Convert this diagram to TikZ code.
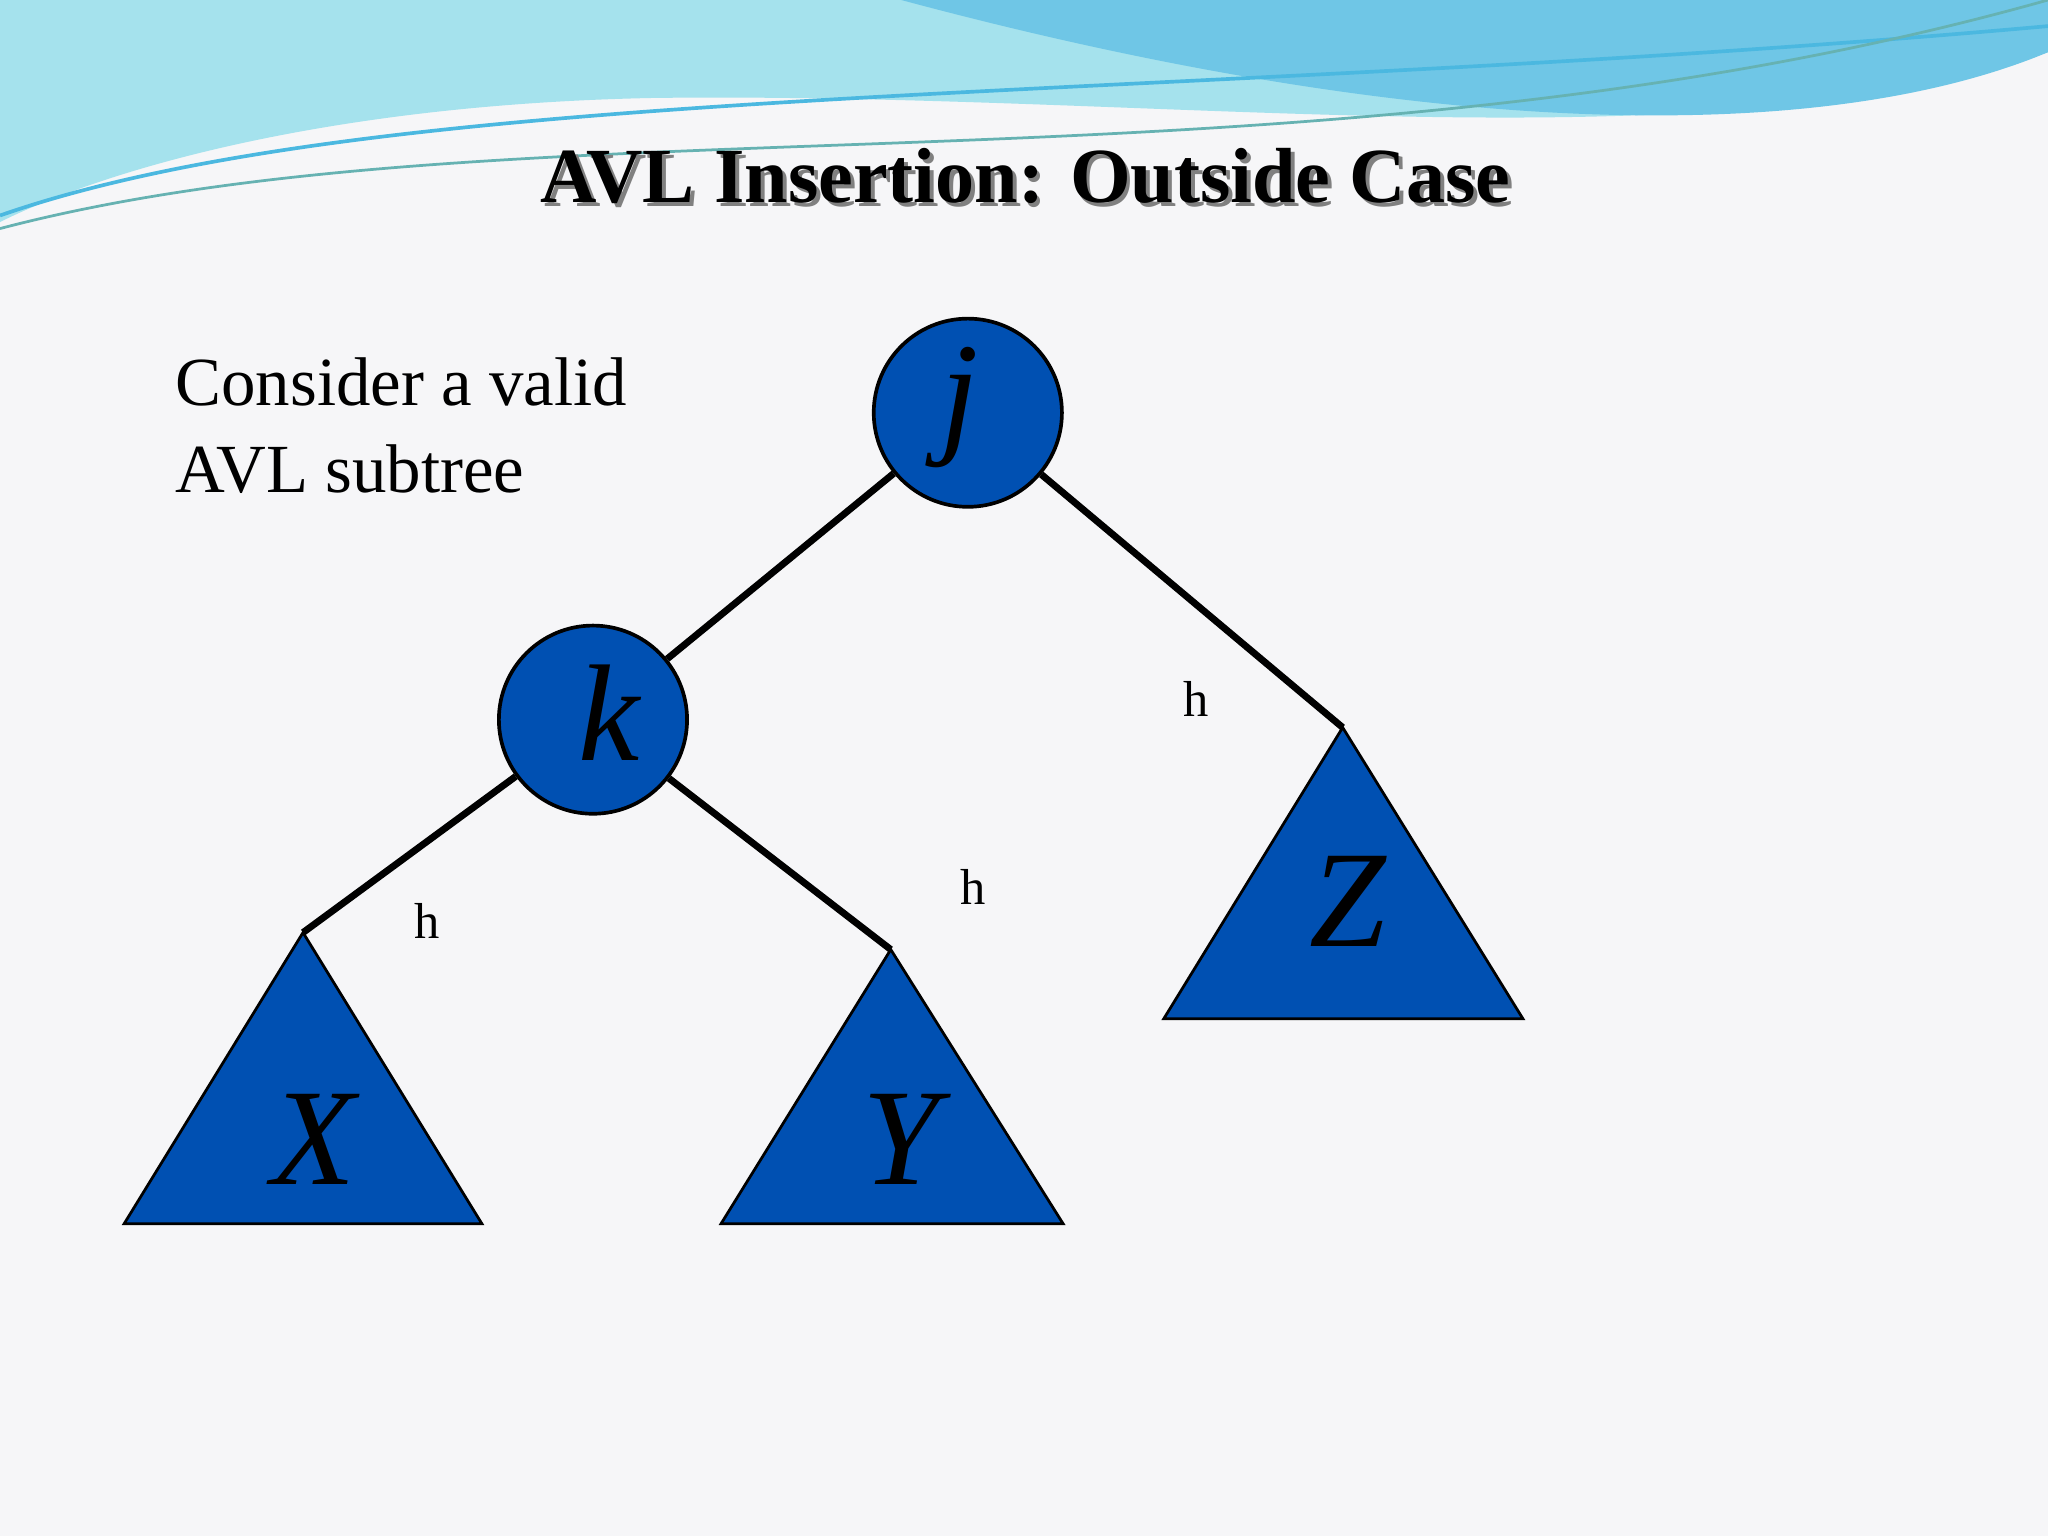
\documentclass[tikz,border=0pt]{standalone}
\usepackage{fontspec}
\setmainfont{Liberation Serif}
\begin{document}
\begin{tikzpicture}[x=0.01cm,y=-0.01cm,
  nd/.style={circle,draw=black,line width=0.8pt,fill=blue!55!cyan!70!black,minimum size=1.44cm,inner sep=0pt},
  tri/.style={draw=black,line width=0.6pt,fill=blue!55!cyan!70!black},
  edge/.style={line width=1.5pt},
  big/.style={font=\fontsize{30}{30}\selectfont\itshape},
  hl/.style={font=\fontsize{11}{11}\selectfont}]
\definecolor{bg}{HTML}{F6F6F8}
\definecolor{w1}{HTML}{7ED6E6}
\definecolor{w2}{HTML}{4BB8E0}
\fill[bg] (0,0) rectangle (1568,1176);
\useasboundingbox (0,0) rectangle (1568,1176);
% waves
\fill[w1!70!white] (0,0) -- (1568,0) -- (1568,40) .. controls (1300,130) and (900,70) .. (500,75) .. controls (250,80) and (80,130) .. (0,170) -- cycle;
\fill[w2!80!white] (690,0) -- (1568,0) -- (1568,40) .. controls (1400,110) and (1100,110) .. (690,0) -- cycle;
\draw[w2,line width=0.8pt] (0,165) .. controls (300,60) and (900,80) .. (1568,20);
\draw[teal!60,line width=0.6pt] (0,175) .. controls (400,70) and (1000,160) .. (1568,0);
% title
\node[font=\fontsize{17}{17}\selectfont\bfseries,text=gray] at (788,138) {AVL Insertion: Outside Case};
\node[font=\fontsize{17}{17}\selectfont\bfseries] (title) at (785,135) {AVL Insertion: Outside Case};
\node[anchor=west,align=left,font=\fontsize{15}{19}\selectfont] (txt) at (122,326) {Consider a valid\\AVL subtree};
% triangles
\coordinate (xa) at (232,714); \coordinate (ya) at (682,727); \coordinate (za) at (1028,557);
\filldraw[tri] (xa) -- (95,937) -- (369,937) -- cycle;
\filldraw[tri] (ya) -- (552,937) -- (814,937) -- cycle;
\filldraw[tri] (za) -- (891,780) -- (1166,780) -- cycle;
\node[big] (X) at (240,872) {X};
\node[big] (Y) at (690,872) {Y};
\node[big] (Z) at (1032,690) {Z};
% nodes
\node[nd] (j) at (741,316) {};
\node[nd] (k) at (454,551) {};
\node[big] at (735,312) {j};
\node[big] at (466,546) {k};
\draw[edge] (j) -- (k);
\draw[edge] (j) -- (za);
\draw[edge] (k) -- (xa);
\draw[edge] (k) -- (ya);
\node[hl] (h1) at (916,535) {h};
\node[hl] (h2) at (745,679) {h};
\node[hl] (h3) at (327,705) {h};
\end{tikzpicture}
\end{document}
